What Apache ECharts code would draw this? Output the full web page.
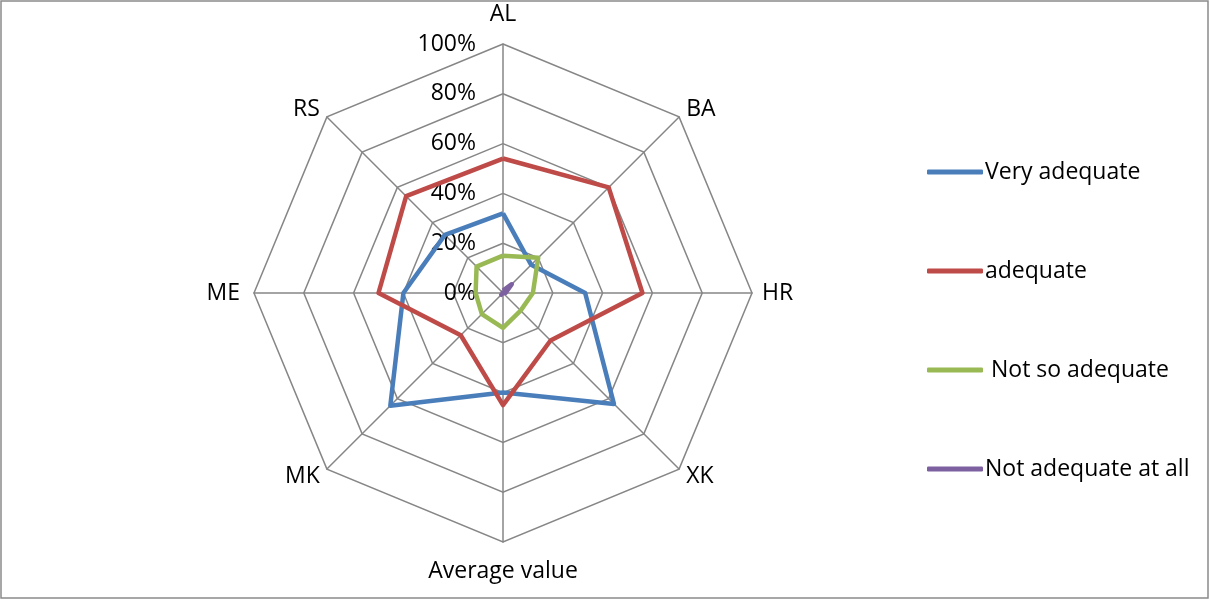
<!DOCTYPE html>
<html>
<head>
<meta charset="utf-8">
<script src="https://cdn.jsdelivr.net/npm/echarts@6/dist/echarts.min.js"></script>
<style>
  html, body { margin: 0; padding: 0; background: #fff; }
  #chart { width: 1210px; height: 600px; }
</style>
</head>
<body>
<div id="chart"></div>
<script>
// Regions, listed clockwise starting from the top axis
const categories = ['AL', 'BA', 'HR', 'XK', 'Average value', 'MK', 'ME', 'RS'];

// Share of answers per region (%)
const veryAdequate   = [32, 16, 33, 63, 40, 64, 40, 33];
const adequate       = [54, 60, 56, 27, 45, 24, 50, 55];
const notSoAdequate  = [15, 20, 12, 10, 14, 12, 11, 15];
const notAdequateAll = [1, 5, 1, 0, 0, 1, 0, 0];

const seriesNames = ['Very adequate', 'adequate', ' Not so adequate', 'Not adequate at all'];
const seriesColors = ['#4a7ebb', '#be4b48', '#98b954', '#7d60a0'];

const tickValues = [0, 20, 40, 60, 80, 100];

// ECharts lays radar indicators out counter-clockwise, so keep the first
// one at the top and reverse the rest to get a clockwise reading order.
function clockwise(arr) {
  return [arr[0]].concat(arr.slice(1).reverse());
}

const FONT = '"Open Sans", "Noto Sans", sans-serif';
const FONT_SIZE = 23;
const CENTER = [503, 293];
const RADIUS = 249;

const allSeries = [veryAdequate, adequate, notSoAdequate, notAdequateAll];

// Extra spacing for a few axis names that sit a little further out
const nameStyles = {
  AL: 'top',
  'Average value': 'bottom',
  ME: 'left'
};

const chart = echarts.init(document.getElementById('chart'));
chart.setOption({
  backgroundColor: '#ffffff',
  animation: false,
  color: seriesColors,
  textStyle: { fontFamily: FONT },
  graphic: [{
    type: 'rect',
    shape: { x: 1, y: 1, width: 1207, height: 597 },
    style: { fill: 'none', stroke: '#8a8a8a', lineWidth: 1.5 },
    silent: true,
    z: -10
  }],
  legend: {
    orient: 'vertical',
    left: 922,
    top: 152,
    icon: 'roundRect',
    itemWidth: 56,
    itemHeight: 5,
    itemGap: 69,
    data: seriesNames,
    textStyle: {
      fontFamily: FONT,
      fontSize: FONT_SIZE,
      color: '#000',
      lineHeight: 30,
      padding: [0, 0, 0, -3]
    }
  },
  radar: {
    center: CENTER,
    radius: RADIUS,
    startAngle: 90,
    shape: 'polygon',
    splitNumber: 5,
    indicator: clockwise(categories).map(name => ({ name: name, min: 0, max: 100 })),
    axisName: {
      color: '#000',
      fontSize: FONT_SIZE,
      fontFamily: FONT,
      formatter: function (name) {
        return nameStyles[name] ? '{' + nameStyles[name] + '|' + name + '}' : name;
      },
      rich: {
        top: { fontSize: FONT_SIZE, fontFamily: FONT, color: '#000', padding: [0, 0, 8, 0] },
        bottom: { fontSize: FONT_SIZE, fontFamily: FONT, color: '#000', padding: [8, 0, 0, 0] },
        left: { fontSize: FONT_SIZE, fontFamily: FONT, color: '#000', padding: [0, 4, 0, 0] }
      }
    },
    nameGap: 10,
    axisLine: { lineStyle: { color: '#868686', width: 1.5 } },
    splitLine: { lineStyle: { color: '#868686', width: 1.5 } },
    splitArea: { show: false },
    axisTick: { show: false },
    axisLabel: { show: false }
  },
  // Polar system sharing the radar's centre, used only for the % tick labels
  polar: { center: CENTER, radius: RADIUS },
  angleAxis: {
    type: 'value', startAngle: 90, min: 0, max: 360,
    show: false
  },
  radiusAxis: {
    type: 'value',
    min: tickValues[0],
    max: tickValues[tickValues.length - 1],
    interval: 20,
    axisLine: { show: false },
    axisTick: { show: false },
    splitLine: { show: false },
    axisLabel: {
      show: true,
      formatter: '{value}%',
      fontSize: FONT_SIZE,
      fontFamily: FONT,
      color: '#000',
      margin: 27,
      padding: [6, 0, 0, 0]
    }
  },
  series: [{
    type: 'radar',
    symbol: 'none',
    data: allSeries.map((vals, i) => ({
      name: seriesNames[i],
      value: clockwise(vals),
      lineStyle: { color: seriesColors[i], width: 4.5 },
      itemStyle: { color: seriesColors[i] }
    }))
  }]
});
</script>
</body>
</html>
